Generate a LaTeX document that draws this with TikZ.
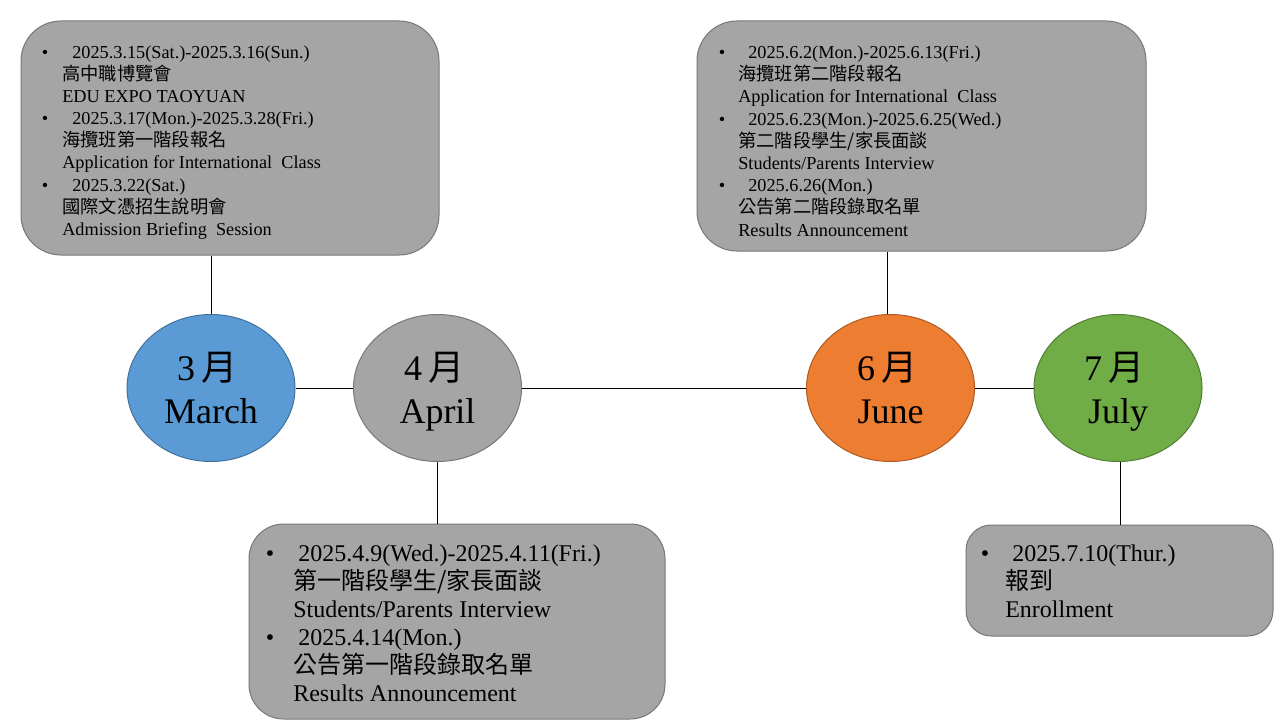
\documentclass[tikz,border=0pt]{standalone}
\usepackage{fontspec}
\setmainfont{Liberation Serif}
\newfontfamily\cjk{Noto Sans CJK TC}
\usetikzlibrary{shapes.geometric}
\definecolor{mblue}{HTML}{5B9BD5}\definecolor{mblueD}{HTML}{41719C}
\definecolor{mgray}{HTML}{A5A5A5}\definecolor{mgrayD}{HTML}{787878}
\definecolor{morange}{HTML}{ED7D31}\definecolor{morangeD}{HTML}{AE5A21}
\definecolor{mgreen}{HTML}{70AD47}\definecolor{mgreenD}{HTML}{507E32}
\tikzset{
  box/.style={rectangle, fill=mgray, draw=mgrayD, line width=0.75pt, inner sep=0pt},
  month/.style={ellipse, inner sep=0pt, minimum width=126pt, minimum height=110.25pt, line width=0.75pt},
  mtxt/.style={anchor=base, inner sep=0pt, font=\fontsize{27}{30}\selectfont},
  sm/.style={anchor=base west, inner sep=0pt, font=\fontsize{13.7}{16}\selectfont},
  smb/.style={anchor=base, inner sep=0pt, font=\fontsize{13.7}{16}\selectfont},
  lg/.style={anchor=base west, inner sep=0pt, font=\fontsize{18}{20}\selectfont},
  lgb/.style={anchor=base, inner sep=0pt, font=\fontsize{18}{20}\selectfont},
  conn/.style={draw=black, line width=0.75pt}
}
\begin{document}
\begin{tikzpicture}[x=0.75pt,y=-0.75pt]
\useasboundingbox[fill=white] (0,0) rectangle (1280,720);

% boxes
\node[box, rounded corners=30pt, minimum width=313.5pt, minimum height=175.5pt] (box1) at (230,138) {};
\node[box, rounded corners=30pt, minimum width=336.75pt, minimum height=172.5pt] (box2) at (921.5,136) {};
\node[box, rounded corners=26pt, minimum width=312pt, minimum height=146.25pt] (box3) at (457,621.5) {};
\node[box, rounded corners=19pt, minimum width=230.25pt, minimum height=83.25pt] (box4) at (1119.5,580.5) {};

% ellipses
\node[month, fill=mblue, draw=mblueD] (mar) at (211,388) {};
\node[month, fill=mgray, draw=mgrayD] (apr) at (437.5,388) {};
\node[month, fill=morange, draw=morangeD] (jun) at (890.5,388) {};
\node[month, fill=mgreen, draw=mgreenD] (jul) at (1118,388) {};

% connectors
\draw[conn] (mar.east) -- (apr.west);
\draw[conn] (apr.east) -- (jun.west);
\draw[conn] (jun.east) -- (jul.west);
\draw[conn] (mar.north) -- (mar.north |- box1.south);
\draw[conn] (apr.south) -- (apr.south |- box3.north);
\draw[conn] ([xshift=-2.6pt]jun.north) -- ([xshift=-2.6pt]jun.north |- box2.south);
\draw[conn] ([xshift=2.2pt]jul.south) -- ([xshift=2.2pt]jul.south |- box4.north);

% month labels
\node[mtxt] (mar1) at (207,380) {3\,{\cjk 月}};
\node[mtxt] (mar2) at (211,423) {March};
\node[mtxt] (apr1) at (434,380) {4\,{\cjk 月}};
\node[mtxt] (apr2) at (437.5,423) {April};
\node[mtxt] (jun1) at (887,380) {6\,{\cjk 月}};
\node[mtxt] (jun2) at (890.5,423) {June};
\node[mtxt] (jul1) at (1114,380) {7\,{\cjk 月}};
\node[mtxt] (jul2) at (1118,423) {July};

% box1 text
\node[smb] (b1p1) at (45,58.5) {•};
\node[sm] (b1l1) at (72,58.5) {2025.3.15(Sat.)-2025.3.16(Sun.)};
\node[sm] (b1l2) at (62,80.6) {\cjk 高中職博覽會};
\node[sm] (b1l3) at (62,102.7) {EDU EXPO TAOYUAN};
\node[smb] (b1p2) at (45,124.8) {•};
\node[sm] (b1l4) at (72,124.8) {2025.3.17(Mon.)-2025.3.28(Fri.)};
\node[sm] (b1l5) at (62,146.9) {\cjk 海攬班第一階段報名};
\node[sm] (b1l6) at (62,169) {Application for International\ \ Class};
\node[smb] (b1p3) at (45,191.1) {•};
\node[sm] (b1l7) at (72,191.1) {2025.3.22(Sat.)};
\node[sm] (b1l8) at (62,213.2) {\cjk 國際文憑招生說明會};
\node[sm] (b1l9) at (62,235.3) {Admission Briefing\ \ Session};

% box2 text
\node[smb] (b2p1) at (722,58.5) {•};
\node[sm] (b2l1) at (748,58.5) {2025.6.2(Mon.)-2025.6.13(Fri.)};
\node[sm] (b2l2) at (738,80.7) {\cjk 海攬班第二階段報名};
\node[sm] (b2l3) at (738,102.9) {Application for International\ \ Class};
\node[smb] (b2p2) at (722,125.1) {•};
\node[sm] (b2l4) at (748,125.1) {2025.6.23(Mon.)-2025.6.25(Wed.)};
\node[sm] (b2l5) at (738,147.3) {\cjk 第二階段學生/家長面談};
\node[sm] (b2l6) at (738,169.5) {Students/Parents Interview};
\node[smb] (b2p3) at (722,191.7) {•};
\node[sm] (b2l7) at (748,191.7) {2025.6.26(Mon.)};
\node[sm] (b2l8) at (738,213.9) {\cjk 公告第二階段錄取名單};
\node[sm] (b2l9) at (738,236.1) {Results Announcement};

% box3 text
\node[lgb] (b3p1) at (270,561) {•};
\node[lg] (b3l1) at (298,561) {2025.4.9(Wed.)-2025.4.11(Fri.)};
\node[lg] (b3l2) at (293,589) {\cjk 第一階段學生/家長面談};
\node[lg] (b3l3) at (293,617) {Students/Parents Interview};
\node[lgb] (b3p2) at (270,645) {•};
\node[lg] (b3l4) at (298,645) {2025.4.14(Mon.)};
\node[lg] (b3l5) at (293,673) {\cjk 公告第一階段錄取名單};
\node[lg] (b3l6) at (293,701) {Results Announcement};

% box4 text
\node[lgb] (b4p1) at (985,561) {•};
\node[lg] (b4l1) at (1012,561) {2025.7.10(Thur.)};
\node[lg] (b4l2) at (1005,589) {\cjk 報到};
\node[lg] (b4l3) at (1005,617) {Enrollment};
\end{tikzpicture}
\end{document}
